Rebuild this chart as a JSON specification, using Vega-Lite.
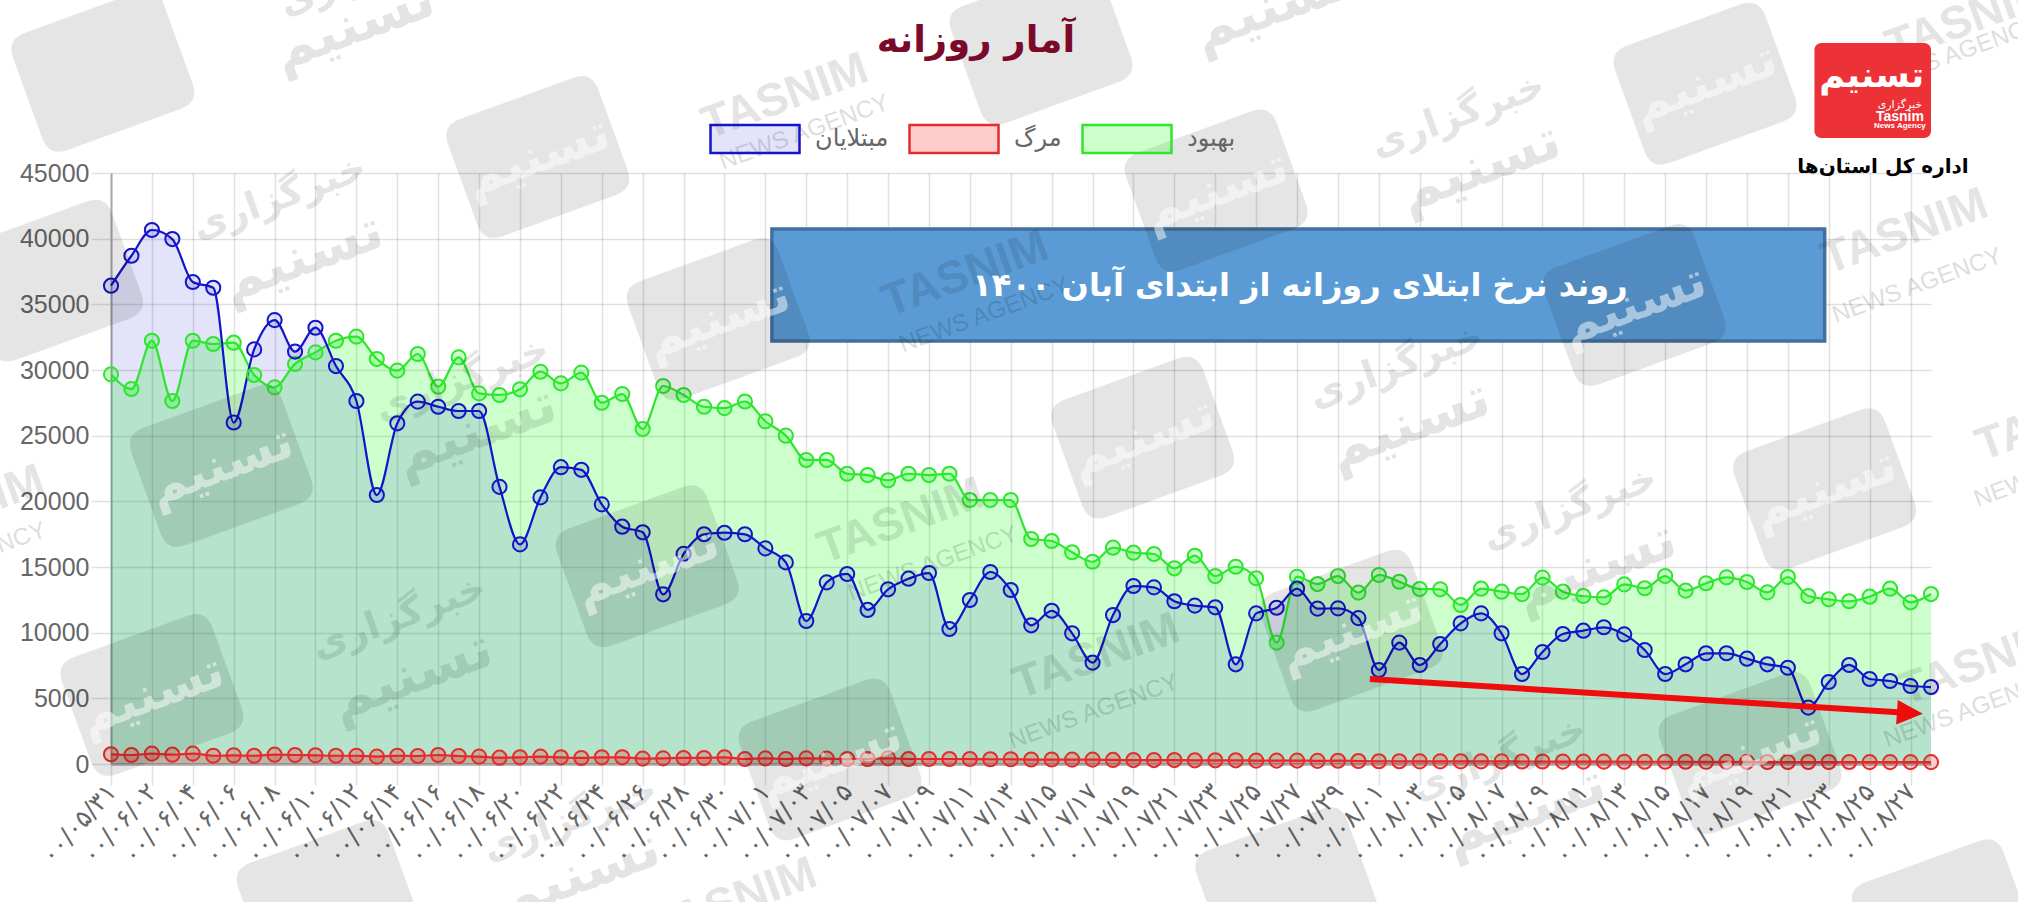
{
  "$schema": "https://vega.github.io/schema/vega-lite/v6.json",
  "description": "Daily statistics with the trend arrow, note box, logo and watermarks.",
  "width": 1820,
  "height": 591,
  "autosize": {"type": "none"},
  "padding": {"left": 111, "top": 173, "right": 87, "bottom": 138},
  "background": "white",
  "title": {"text": "آمار روزانه", "anchor": "middle", "dx": -45, "dy": 135, "offset": 0, "font": "DejaVu Sans", "fontSize": 37, "fontWeight": "bold", "color": "#7b0a2a"},
  "config": {"view": {"stroke": null}},
  "datasets": {
    "badges": [
      {"at": -0.4, "level": 52780}, {"at": 20.87, "level": 46214}, {"at": 54.04, "level": 43666}, {"at": 77.95, "level": 51800},
      {"at": 45.48, "level": 54838}, {"at": -2.91, "level": 36806}, {"at": 5.39, "level": 22694}, {"at": 29.69, "level": 33866},
      {"at": 50.45, "level": 24850}, {"at": 74.49, "level": 34944}, {"at": 83.8, "level": 20930}, {"at": 26.22, "level": 15050},
      {"at": 60.65, "level": 10150}, {"at": 2, "level": 5250}, {"at": 35.16, "level": 350}, {"at": 80.15, "level": 840},
      {"at": 89.6, "level": -11900}, {"at": 57.5, "level": -9450}, {"at": 10.62, "level": -10430}
    ]
  },
  "data": {
    "values": [
      {"day":"۰۰/۰۵/۳۱","group":"بهبود","count":29670},{"day":"۰۰/۰۶/۰۱","group":"بهبود","count":28550},{"day":"۰۰/۰۶/۰۲","group":"بهبود","count":32230},{"day":"۰۰/۰۶/۰۳","group":"بهبود","count":27640},{"day":"۰۰/۰۶/۰۴","group":"بهبود","count":32230},{"day":"۰۰/۰۶/۰۵","group":"بهبود","count":31980},{"day":"۰۰/۰۶/۰۶","group":"بهبود","count":32080},{"day":"۰۰/۰۶/۰۷","group":"بهبود","count":29620},{"day":"۰۰/۰۶/۰۸","group":"بهبود","count":28680},{"day":"۰۰/۰۶/۰۹","group":"بهبود","count":30460},
      {"day":"۰۰/۰۶/۱۰","group":"بهبود","count":31340},{"day":"۰۰/۰۶/۱۱","group":"بهبود","count":32230},{"day":"۰۰/۰۶/۱۲","group":"بهبود","count":32540},{"day":"۰۰/۰۶/۱۳","group":"بهبود","count":30840},{"day":"۰۰/۰۶/۱۴","group":"بهبود","count":29950},{"day":"۰۰/۰۶/۱۵","group":"بهبود","count":31220},{"day":"۰۰/۰۶/۱۶","group":"بهبود","count":28730},{"day":"۰۰/۰۶/۱۷","group":"بهبود","count":30960},{"day":"۰۰/۰۶/۱۸","group":"بهبود","count":28220},{"day":"۰۰/۰۶/۱۹","group":"بهبود","count":28100},
      {"day":"۰۰/۰۶/۲۰","group":"بهبود","count":28530},{"day":"۰۰/۰۶/۲۱","group":"بهبود","count":29870},{"day":"۰۰/۰۶/۲۲","group":"بهبود","count":28980},{"day":"۰۰/۰۶/۲۳","group":"بهبود","count":29800},{"day":"۰۰/۰۶/۲۴","group":"بهبود","count":27510},{"day":"۰۰/۰۶/۲۵","group":"بهبود","count":28170},{"day":"۰۰/۰۶/۲۶","group":"بهبود","count":25510},{"day":"۰۰/۰۶/۲۷","group":"بهبود","count":28780},{"day":"۰۰/۰۶/۲۸","group":"بهبود","count":28100},{"day":"۰۰/۰۶/۲۹","group":"بهبود","count":27200},
      {"day":"۰۰/۰۶/۳۰","group":"بهبود","count":27100},{"day":"۰۰/۰۶/۳۱","group":"بهبود","count":27600},{"day":"۰۰/۰۷/۰۱","group":"بهبود","count":26100},{"day":"۰۰/۰۷/۰۲","group":"بهبود","count":25000},{"day":"۰۰/۰۷/۰۳","group":"بهبود","count":23150},{"day":"۰۰/۰۷/۰۴","group":"بهبود","count":23150},{"day":"۰۰/۰۷/۰۵","group":"بهبود","count":22100},{"day":"۰۰/۰۷/۰۶","group":"بهبود","count":22000},{"day":"۰۰/۰۷/۰۷","group":"بهبود","count":21600},{"day":"۰۰/۰۷/۰۸","group":"بهبود","count":22100},
      {"day":"۰۰/۰۷/۰۹","group":"بهبود","count":22000},{"day":"۰۰/۰۷/۱۰","group":"بهبود","count":22100},{"day":"۰۰/۰۷/۱۱","group":"بهبود","count":20100},{"day":"۰۰/۰۷/۱۲","group":"بهبود","count":20100},{"day":"۰۰/۰۷/۱۳","group":"بهبود","count":20100},{"day":"۰۰/۰۷/۱۴","group":"بهبود","count":17130},{"day":"۰۰/۰۷/۱۵","group":"بهبود","count":16980},{"day":"۰۰/۰۷/۱۶","group":"بهبود","count":16120},{"day":"۰۰/۰۷/۱۷","group":"بهبود","count":15400},{"day":"۰۰/۰۷/۱۸","group":"بهبود","count":16470},
      {"day":"۰۰/۰۷/۱۹","group":"بهبود","count":16090},{"day":"۰۰/۰۷/۲۰","group":"بهبود","count":15990},{"day":"۰۰/۰۷/۲۱","group":"بهبود","count":14900},{"day":"۰۰/۰۷/۲۲","group":"بهبود","count":15860},{"day":"۰۰/۰۷/۲۳","group":"بهبود","count":14310},{"day":"۰۰/۰۷/۲۴","group":"بهبود","count":15020},{"day":"۰۰/۰۷/۲۵","group":"بهبود","count":14140},{"day":"۰۰/۰۷/۲۶","group":"بهبود","count":9240},{"day":"۰۰/۰۷/۲۷","group":"بهبود","count":14260},{"day":"۰۰/۰۷/۲۸","group":"بهبود","count":13700},
      {"day":"۰۰/۰۷/۲۹","group":"بهبود","count":14310},{"day":"۰۰/۰۷/۳۰","group":"بهبود","count":13050},{"day":"۰۰/۰۸/۰۱","group":"بهبود","count":14390},{"day":"۰۰/۰۸/۰۲","group":"بهبود","count":13880},{"day":"۰۰/۰۸/۰۳","group":"بهبود","count":13320},{"day":"۰۰/۰۸/۰۴","group":"بهبود","count":13300},{"day":"۰۰/۰۸/۰۵","group":"بهبود","count":12110},{"day":"۰۰/۰۸/۰۶","group":"بهبود","count":13350},{"day":"۰۰/۰۸/۰۷","group":"بهبود","count":13120},{"day":"۰۰/۰۸/۰۸","group":"بهبود","count":12940},
      {"day":"۰۰/۰۸/۰۹","group":"بهبود","count":14190},{"day":"۰۰/۰۸/۱۰","group":"بهبود","count":13120},{"day":"۰۰/۰۸/۱۱","group":"بهبود","count":12790},{"day":"۰۰/۰۸/۱۲","group":"بهبود","count":12690},{"day":"۰۰/۰۸/۱۳","group":"بهبود","count":13680},{"day":"۰۰/۰۸/۱۴","group":"بهبود","count":13380},{"day":"۰۰/۰۸/۱۵","group":"بهبود","count":14310},{"day":"۰۰/۰۸/۱۶","group":"بهبود","count":13200},{"day":"۰۰/۰۸/۱۷","group":"بهبود","count":13760},{"day":"۰۰/۰۸/۱۸","group":"بهبود","count":14210},
      {"day":"۰۰/۰۸/۱۹","group":"بهبود","count":13860},{"day":"۰۰/۰۸/۲۰","group":"بهبود","count":13070},{"day":"۰۰/۰۸/۲۱","group":"بهبود","count":14240},{"day":"۰۰/۰۸/۲۲","group":"بهبود","count":12790},{"day":"۰۰/۰۸/۲۳","group":"بهبود","count":12540},{"day":"۰۰/۰۸/۲۴","group":"بهبود","count":12390},{"day":"۰۰/۰۸/۲۵","group":"بهبود","count":12740},{"day":"۰۰/۰۸/۲۶","group":"بهبود","count":13350},{"day":"۰۰/۰۸/۲۷","group":"بهبود","count":12310},{"day":"۰۰/۰۸/۲۸","group":"بهبود","count":12940},

      {"day":"۰۰/۰۵/۳۱","group":"مرگ","count":740},{"day":"۰۰/۰۶/۰۱","group":"مرگ","count":685},{"day":"۰۰/۰۶/۰۲","group":"مرگ","count":790},{"day":"۰۰/۰۶/۰۳","group":"مرگ","count":710},{"day":"۰۰/۰۶/۰۴","group":"مرگ","count":790},{"day":"۰۰/۰۶/۰۵","group":"مرگ","count":630},{"day":"۰۰/۰۶/۰۶","group":"مرگ","count":660},{"day":"۰۰/۰۶/۰۷","group":"مرگ","count":630},{"day":"۰۰/۰۶/۰۸","group":"مرگ","count":710},{"day":"۰۰/۰۶/۰۹","group":"مرگ","count":685},
      {"day":"۰۰/۰۶/۱۰","group":"مرگ","count":660},{"day":"۰۰/۰۶/۱۱","group":"مرگ","count":630},{"day":"۰۰/۰۶/۱۲","group":"مرگ","count":630},{"day":"۰۰/۰۶/۱۳","group":"مرگ","count":560},{"day":"۰۰/۰۶/۱۴","group":"مرگ","count":630},{"day":"۰۰/۰۶/۱۵","group":"مرگ","count":610},{"day":"۰۰/۰۶/۱۶","group":"مرگ","count":685},{"day":"۰۰/۰۶/۱۷","group":"مرگ","count":610},{"day":"۰۰/۰۶/۱۸","group":"مرگ","count":560},{"day":"۰۰/۰۶/۱۹","group":"مرگ","count":480},
      {"day":"۰۰/۰۶/۲۰","group":"مرگ","count":510},{"day":"۰۰/۰۶/۲۱","group":"مرگ","count":560},{"day":"۰۰/۰۶/۲۲","group":"مرگ","count":510},{"day":"۰۰/۰۶/۲۳","group":"مرگ","count":460},{"day":"۰۰/۰۶/۲۴","group":"مرگ","count":510},{"day":"۰۰/۰۶/۲۵","group":"مرگ","count":510},{"day":"۰۰/۰۶/۲۶","group":"مرگ","count":410},{"day":"۰۰/۰۶/۲۷","group":"مرگ","count":430},{"day":"۰۰/۰۶/۲۸","group":"مرگ","count":460},{"day":"۰۰/۰۶/۲۹","group":"مرگ","count":460},
      {"day":"۰۰/۰۶/۳۰","group":"مرگ","count":510},{"day":"۰۰/۰۶/۳۱","group":"مرگ","count":380},{"day":"۰۰/۰۷/۰۱","group":"مرگ","count":430},{"day":"۰۰/۰۷/۰۲","group":"مرگ","count":380},{"day":"۰۰/۰۷/۰۳","group":"مرگ","count":430},{"day":"۰۰/۰۷/۰۴","group":"مرگ","count":410},{"day":"۰۰/۰۷/۰۵","group":"مرگ","count":380},{"day":"۰۰/۰۷/۰۶","group":"مرگ","count":380},{"day":"۰۰/۰۷/۰۷","group":"مرگ","count":430},{"day":"۰۰/۰۷/۰۸","group":"مرگ","count":380},
      {"day":"۰۰/۰۷/۰۹","group":"مرگ","count":380},{"day":"۰۰/۰۷/۱۰","group":"مرگ","count":380},{"day":"۰۰/۰۷/۱۱","group":"مرگ","count":380},{"day":"۰۰/۰۷/۱۲","group":"مرگ","count":360},{"day":"۰۰/۰۷/۱۳","group":"مرگ","count":360},{"day":"۰۰/۰۷/۱۴","group":"مرگ","count":340},{"day":"۰۰/۰۷/۱۵","group":"مرگ","count":340},{"day":"۰۰/۰۷/۱۶","group":"مرگ","count":330},{"day":"۰۰/۰۷/۱۷","group":"مرگ","count":330},{"day":"۰۰/۰۷/۱۸","group":"مرگ","count":310},
      {"day":"۰۰/۰۷/۱۹","group":"مرگ","count":300},{"day":"۰۰/۰۷/۲۰","group":"مرگ","count":300},{"day":"۰۰/۰۷/۲۱","group":"مرگ","count":300},{"day":"۰۰/۰۷/۲۲","group":"مرگ","count":280},{"day":"۰۰/۰۷/۲۳","group":"مرگ","count":280},{"day":"۰۰/۰۷/۲۴","group":"مرگ","count":280},{"day":"۰۰/۰۷/۲۵","group":"مرگ","count":260},{"day":"۰۰/۰۷/۲۶","group":"مرگ","count":260},{"day":"۰۰/۰۷/۲۷","group":"مرگ","count":260},{"day":"۰۰/۰۷/۲۸","group":"مرگ","count":240},
      {"day":"۰۰/۰۷/۲۹","group":"مرگ","count":250},{"day":"۰۰/۰۷/۳۰","group":"مرگ","count":230},{"day":"۰۰/۰۸/۰۱","group":"مرگ","count":210},{"day":"۰۰/۰۸/۰۲","group":"مرگ","count":210},{"day":"۰۰/۰۸/۰۳","group":"مرگ","count":200},{"day":"۰۰/۰۸/۰۴","group":"مرگ","count":200},{"day":"۰۰/۰۸/۰۵","group":"مرگ","count":200},{"day":"۰۰/۰۸/۰۶","group":"مرگ","count":200},{"day":"۰۰/۰۸/۰۷","group":"مرگ","count":200},{"day":"۰۰/۰۸/۰۸","group":"مرگ","count":190},
      {"day":"۰۰/۰۸/۰۹","group":"مرگ","count":190},{"day":"۰۰/۰۸/۱۰","group":"مرگ","count":180},{"day":"۰۰/۰۸/۱۱","group":"مرگ","count":180},{"day":"۰۰/۰۸/۱۲","group":"مرگ","count":180},{"day":"۰۰/۰۸/۱۳","group":"مرگ","count":170},{"day":"۰۰/۰۸/۱۴","group":"مرگ","count":170},{"day":"۰۰/۰۸/۱۵","group":"مرگ","count":170},{"day":"۰۰/۰۸/۱۶","group":"مرگ","count":170},{"day":"۰۰/۰۸/۱۷","group":"مرگ","count":160},{"day":"۰۰/۰۸/۱۸","group":"مرگ","count":160},
      {"day":"۰۰/۰۸/۱۹","group":"مرگ","count":160},{"day":"۰۰/۰۸/۲۰","group":"مرگ","count":150},{"day":"۰۰/۰۸/۲۱","group":"مرگ","count":150},{"day":"۰۰/۰۸/۲۲","group":"مرگ","count":150},{"day":"۰۰/۰۸/۲۳","group":"مرگ","count":150},{"day":"۰۰/۰۸/۲۴","group":"مرگ","count":150},{"day":"۰۰/۰۸/۲۵","group":"مرگ","count":140},{"day":"۰۰/۰۸/۲۶","group":"مرگ","count":140},{"day":"۰۰/۰۸/۲۷","group":"مرگ","count":140},{"day":"۰۰/۰۸/۲۸","group":"مرگ","count":140},

      {"day":"۰۰/۰۵/۳۱","group":"مبتلایان","count":36420},{"day":"۰۰/۰۶/۰۱","group":"مبتلایان","count":38700},{"day":"۰۰/۰۶/۰۲","group":"مبتلایان","count":40660},{"day":"۰۰/۰۶/۰۳","group":"مبتلایان","count":39970},{"day":"۰۰/۰۶/۰۴","group":"مبتلایان","count":36700},{"day":"۰۰/۰۶/۰۵","group":"مبتلایان","count":36260},{"day":"۰۰/۰۶/۰۶","group":"مبتلایان","count":26000},{"day":"۰۰/۰۶/۰۷","group":"مبتلایان","count":31570},{"day":"۰۰/۰۶/۰۸","group":"مبتلایان","count":33800},{"day":"۰۰/۰۶/۰۹","group":"مبتلایان","count":31400},
      {"day":"۰۰/۰۶/۱۰","group":"مبتلایان","count":33220},{"day":"۰۰/۰۶/۱۱","group":"مبتلایان","count":30300},{"day":"۰۰/۰۶/۱۲","group":"مبتلایان","count":27640},{"day":"۰۰/۰۶/۱۳","group":"مبتلایان","count":20480},{"day":"۰۰/۰۶/۱۴","group":"مبتلایان","count":25940},{"day":"۰۰/۰۶/۱۵","group":"مبتلایان","count":27590},{"day":"۰۰/۰۶/۱۶","group":"مبتلایان","count":27200},{"day":"۰۰/۰۶/۱۷","group":"مبتلایان","count":26880},{"day":"۰۰/۰۶/۱۸","group":"مبتلایان","count":26880},{"day":"۰۰/۰۶/۱۹","group":"مبتلایان","count":21100},
      {"day":"۰۰/۰۶/۲۰","group":"مبتلایان","count":16720},{"day":"۰۰/۰۶/۲۱","group":"مبتلایان","count":20300},{"day":"۰۰/۰۶/۲۲","group":"مبتلایان","count":22600},{"day":"۰۰/۰۶/۲۳","group":"مبتلایان","count":22400},{"day":"۰۰/۰۶/۲۴","group":"مبتلایان","count":19770},{"day":"۰۰/۰۶/۲۵","group":"مبتلایان","count":18070},{"day":"۰۰/۰۶/۲۶","group":"مبتلایان","count":17640},{"day":"۰۰/۰۶/۲۷","group":"مبتلایان","count":12920},{"day":"۰۰/۰۶/۲۸","group":"مبتلایان","count":16000},{"day":"۰۰/۰۶/۲۹","group":"مبتلایان","count":17490},
      {"day":"۰۰/۰۶/۳۰","group":"مبتلایان","count":17610},{"day":"۰۰/۰۶/۳۱","group":"مبتلایان","count":17490},{"day":"۰۰/۰۷/۰۱","group":"مبتلایان","count":16420},{"day":"۰۰/۰۷/۰۲","group":"مبتلایان","count":15350},{"day":"۰۰/۰۷/۰۳","group":"مبتلایان","count":10890},{"day":"۰۰/۰۷/۰۴","group":"مبتلایان","count":13830},{"day":"۰۰/۰۷/۰۵","group":"مبتلایان","count":14470},{"day":"۰۰/۰۷/۰۶","group":"مبتلایان","count":11730},{"day":"۰۰/۰۷/۰۷","group":"مبتلایان","count":13300},{"day":"۰۰/۰۷/۰۸","group":"مبتلایان","count":14110},
      {"day":"۰۰/۰۷/۰۹","group":"مبتلایان","count":14540},{"day":"۰۰/۰۷/۱۰","group":"مبتلایان","count":10280},{"day":"۰۰/۰۷/۱۱","group":"مبتلایان","count":12490},{"day":"۰۰/۰۷/۱۲","group":"مبتلایان","count":14620},{"day":"۰۰/۰۷/۱۳","group":"مبتلایان","count":13250},{"day":"۰۰/۰۷/۱۴","group":"مبتلایان","count":10560},{"day":"۰۰/۰۷/۱۵","group":"مبتلایان","count":11670},{"day":"۰۰/۰۷/۱۶","group":"مبتلایان","count":9950},{"day":"۰۰/۰۷/۱۷","group":"مبتلایان","count":7720},{"day":"۰۰/۰۷/۱۸","group":"مبتلایان","count":11340},
      {"day":"۰۰/۰۷/۱۹","group":"مبتلایان","count":13550},{"day":"۰۰/۰۷/۲۰","group":"مبتلایان","count":13450},{"day":"۰۰/۰۷/۲۱","group":"مبتلایان","count":12390},{"day":"۰۰/۰۷/۲۲","group":"مبتلایان","count":12060},{"day":"۰۰/۰۷/۲۳","group":"مبتلایان","count":11930},{"day":"۰۰/۰۷/۲۴","group":"مبتلایان","count":7590},{"day":"۰۰/۰۷/۲۵","group":"مبتلایان","count":11470},{"day":"۰۰/۰۷/۲۶","group":"مبتلایان","count":11900},{"day":"۰۰/۰۷/۲۷","group":"مبتلایان","count":13350},{"day":"۰۰/۰۷/۲۸","group":"مبتلایان","count":11830},
      {"day":"۰۰/۰۷/۲۹","group":"مبتلایان","count":11850},{"day":"۰۰/۰۷/۳۰","group":"مبتلایان","count":11110},{"day":"۰۰/۰۸/۰۱","group":"مبتلایان","count":7160},{"day":"۰۰/۰۸/۰۲","group":"مبتلایان","count":9240},{"day":"۰۰/۰۸/۰۳","group":"مبتلایان","count":7540},{"day":"۰۰/۰۸/۰۴","group":"مبتلایان","count":9140},{"day":"۰۰/۰۸/۰۵","group":"مبتلایان","count":10710},{"day":"۰۰/۰۸/۰۶","group":"مبتلایان","count":11470},{"day":"۰۰/۰۸/۰۷","group":"مبتلایان","count":9950},{"day":"۰۰/۰۸/۰۸","group":"مبتلایان","count":6850},
      {"day":"۰۰/۰۸/۰۹","group":"مبتلایان","count":8530},{"day":"۰۰/۰۸/۱۰","group":"مبتلایان","count":9900},{"day":"۰۰/۰۸/۱۱","group":"مبتلایان","count":10150},{"day":"۰۰/۰۸/۱۲","group":"مبتلایان","count":10410},{"day":"۰۰/۰۸/۱۳","group":"مبتلایان","count":9870},{"day":"۰۰/۰۸/۱۴","group":"مبتلایان","count":8680},{"day":"۰۰/۰۸/۱۵","group":"مبتلایان","count":6850},{"day":"۰۰/۰۸/۱۶","group":"مبتلایان","count":7590},{"day":"۰۰/۰۸/۱۷","group":"مبتلایان","count":8430},{"day":"۰۰/۰۸/۱۸","group":"مبتلایان","count":8430},
      {"day":"۰۰/۰۸/۱۹","group":"مبتلایان","count":8020},{"day":"۰۰/۰۸/۲۰","group":"مبتلایان","count":7590},{"day":"۰۰/۰۸/۲۱","group":"مبتلایان","count":7330},{"day":"۰۰/۰۸/۲۲","group":"مبتلایان","count":4290},{"day":"۰۰/۰۸/۲۳","group":"مبتلایان","count":6240},{"day":"۰۰/۰۸/۲۴","group":"مبتلایان","count":7540},{"day":"۰۰/۰۸/۲۵","group":"مبتلایان","count":6470},{"day":"۰۰/۰۸/۲۶","group":"مبتلایان","count":6320},{"day":"۰۰/۰۸/۲۷","group":"مبتلایان","count":5940},{"day":"۰۰/۰۸/۲۸","group":"مبتلایان","count":5860}
    ]
  },
  "layer": [
    {
      "encoding": {
        "x": {
          "field": "day", "type": "ordinal", "title": null,
          "scale": {"type": "point", "padding": 0},
          "axis": {
            "values": ["۰۰/۰۵/۳۱","۰۰/۰۶/۰۲","۰۰/۰۶/۰۴","۰۰/۰۶/۰۶","۰۰/۰۶/۰۸","۰۰/۰۶/۱۰","۰۰/۰۶/۱۲","۰۰/۰۶/۱۴","۰۰/۰۶/۱۶","۰۰/۰۶/۱۸","۰۰/۰۶/۲۰","۰۰/۰۶/۲۲","۰۰/۰۶/۲۴","۰۰/۰۶/۲۶","۰۰/۰۶/۲۸","۰۰/۰۶/۳۰","۰۰/۰۷/۰۱","۰۰/۰۷/۰۳","۰۰/۰۷/۰۵","۰۰/۰۷/۰۷","۰۰/۰۷/۰۹","۰۰/۰۷/۱۱","۰۰/۰۷/۱۳","۰۰/۰۷/۱۵","۰۰/۰۷/۱۷","۰۰/۰۷/۱۹","۰۰/۰۷/۲۱","۰۰/۰۷/۲۳","۰۰/۰۷/۲۵","۰۰/۰۷/۲۷","۰۰/۰۷/۲۹","۰۰/۰۸/۰۱","۰۰/۰۸/۰۳","۰۰/۰۸/۰۵","۰۰/۰۸/۰۷","۰۰/۰۸/۰۹","۰۰/۰۸/۱۱","۰۰/۰۸/۱۳","۰۰/۰۸/۱۵","۰۰/۰۸/۱۷","۰۰/۰۸/۱۹","۰۰/۰۸/۲۱","۰۰/۰۸/۲۳","۰۰/۰۸/۲۵","۰۰/۰۸/۲۷"],
            "grid": true, "gridColor": "#000", "gridOpacity": 0.12, "gridWidth": 1.5,
            "tickSize": 21, "tickColor": "#000", "tickOpacity": 0.12, "tickWidth": 1.5,
            "domainColor": "#a8a8a8", "domainWidth": 2.5,
            "labelAngle": 312, "labelAlign": "right", "labelBaseline": "middle", "labelPadding": 2,
            "labelFont": "DejaVu Sans", "labelFontSize": 25, "labelColor": "#666",
            "labelOverlap": false, "labelBound": false, "labelFlush": false
          }
        },
        "y": {
          "field": "count", "type": "quantitative", "title": null, "stack": null,
          "scale": {"domain": [0, 45000], "nice": false},
          "axis": {
            "values": [0, 5000, 10000, 15000, 20000, 25000, 30000, 35000, 40000, 45000],
            "format": "d", "grid": true, "gridColor": "#000", "gridOpacity": 0.12, "gridWidth": 1.5,
            "tickSize": 20, "tickColor": "#000", "tickOpacity": 0.12, "tickWidth": 1.5,
            "domainColor": "#a8a8a8", "domainWidth": 2,
            "labelPadding": 2, "labelFont": "Liberation Sans", "labelFontSize": 25, "labelColor": "#666"
          }
        }
      },
      "layer": [
        {
          "mark": {"type": "area", "interpolate": "monotone", "opacity": 1},
          "encoding": {
            "fill": {
              "field": "group", "type": "nominal", "title": null,
              "scale": {"domain": ["مبتلایان", "مرگ", "بهبود"], "range": ["rgba(0,0,204,0.11)", "rgba(255,0,0,0.2)", "rgba(0,255,0,0.2)"]},
              "legend": {
                "orient": "none", "legendX": 598, "legendY": -80, "direction": "horizontal", "title": null,
                "symbolType": "M-1,-0.315H1V0.315H-1Z", "symbolSize": 7921, "symbolStrokeWidth": 2.5,
                "labelFont": "DejaVu Sans", "labelFontSize": 24, "labelColor": "#666", "labelOffset": 14,
                "columnPadding": 15, "gridAlign": "none"
              }
            }
          }
        },
        {
          "mark": {"type": "line", "interpolate": "monotone", "strokeWidth": 2.2},
          "encoding": {
            "stroke": {
              "field": "group", "type": "nominal", "title": null,
              "scale": {"domain": ["مبتلایان", "مرگ", "بهبود"], "range": ["#1414c8", "#e32d2d", "#2ee62e"]},
              "legend": {
                "orient": "none", "legendX": 598, "legendY": -80, "direction": "horizontal", "title": null,
                "symbolType": "M-1,-0.315H1V0.315H-1Z", "symbolSize": 7921, "symbolStrokeWidth": 2.5,
                "labelFont": "DejaVu Sans", "labelFontSize": 24, "labelColor": "#666", "labelOffset": 14,
                "columnPadding": 15, "gridAlign": "none"
              }
            }
          }
        },
        {
          "mark": {"type": "point", "filled": true, "size": 200, "opacity": 1, "strokeWidth": 2},
          "encoding": {
            "fill": {"field": "group", "type": "nominal", "title": null},
            "stroke": {"field": "group", "type": "nominal", "title": null}
          }
        }
      ]
    },
    {
      "encoding": {
        "x": {"field": "at", "type": "quantitative", "title": null, "scale": {"domain": [0, 89], "nice": false, "zero": false}, "axis": null},
        "y": {"field": "level", "type": "quantitative", "title": null, "scale": {"domain": [0, 45000], "nice": false}}
      },
      "layer": [
        {
          "data": {"values": [{"at": 32.32, "atEnd": 83.8, "level": 40735, "levelEnd": 32207}]},
          "mark": {"type": "rect", "fill": "#5b9bd5", "stroke": "#41719c", "strokeWidth": 3.5},
          "encoding": {"x2": {"field": "atEnd"}, "y2": {"field": "levelEnd"}}
        },
        {
          "data": {"name": "badges"},
          "mark": {"type": "point", "filled": true, "shape": "M-0.75,-0.78H0.75Q1,-0.78 1,-0.53V0.53Q1,0.78 0.75,0.78H-0.75Q-1,0.78 -1,0.53V-0.53Q-1,-0.78 -0.75,-0.78Z", "size": 25600, "angle": -20, "color": "#000", "opacity": 0.1}
        },
        {
          "data": {"name": "badges"},
          "transform": [{"filter": "datum.at > 1 && datum.at < 85 && datum.level > -2000 && datum.level < 54000"}],
          "mark": {"type": "text", "text": "تسنیم", "font": "DejaVu Sans", "fontWeight": "bold", "fontSize": 50, "angle": -20, "color": "#fff", "opacity": 0.5}
        },
        {
          "data": {"values": [
            {"label":"TASNIM","at":32.96,"level":50820},{"label":"TASNIM","at":41.77,"level":37296},{"label":"TASNIM","at":87.71,"level":40530},{"label":"TASNIM","at":38.62,"level":18480},{"label":"TASNIM","at":48.19,"level":8190},{"label":"TASNIM","at":91.48,"level":7700},{"label":"TASNIM","at":90.85,"level":56700},{"label":"TASNIM","at":-7.32,"level":19460},{"label":"TASNIM","at":95.26,"level":26320},{"label":"TASNIM","at":30.44,"level":-10430}
          ]},
          "mark": {"type": "text", "font": "Liberation Sans", "fontWeight": "bold", "fontSize": 46, "angle": -20, "color": "#000", "opacity": 0.1},
          "encoding": {"text": {"field": "label"}}
        },
        {
          "data": {"values": [
            {"label":"NEWS AGENCY","at":33.9,"level":48076},{"label":"NEWS AGENCY","at":42.71,"level":34160},{"label":"NEWS AGENCY","at":88.33,"level":36414},{"label":"NEWS AGENCY","at":40.19,"level":15246},{"label":"NEWS AGENCY","at":48.06,"level":3976},{"label":"NEWS AGENCY","at":90.85,"level":4074},{"label":"NEWS AGENCY","at":90.22,"level":54054},{"label":"NEWS AGENCY","at":-7.32,"level":15540},{"label":"NEWS AGENCY","at":95.26,"level":22400}
          ]},
          "mark": {"type": "text", "font": "Liberation Sans", "fontSize": 24, "angle": -20, "color": "#000", "opacity": 0.13},
          "encoding": {"text": {"field": "label"}}
        },
        {
          "data": {"values": [
            {"label":"خبرگزاری","at":8.23,"level":43078},{"label":"خبرگزاری","at":65.87,"level":49350},{"label":"خبرگزاری","at":17.16,"level":29260},{"label":"خبرگزاری","at":62.85,"level":30240},{"label":"خبرگزاری","at":71.34,"level":19460},{"label":"خبرگزاری","at":14.08,"level":11130},{"label":"خبرگزاری","at":67.88,"level":350},{"label":"خبرگزاری","at":22.45,"level":-4256},{"label":"خبرگزاری","at":12.5,"level":60130}
          ]},
          "mark": {"type": "text", "font": "DejaVu Sans", "fontWeight": "bold", "fontSize": 38, "angle": -20, "color": "#000", "opacity": 0.1},
          "encoding": {"text": {"field": "label"}}
        },
        {
          "data": {"values": [
            {"label":"تسنیم","at":9.36,"level":38570},{"label":"تسنیم","at":66.94,"level":45430},{"label":"تسنیم","at":17.85,"level":25340},{"label":"تسنیم","at":63.48,"level":25830},{"label":"تسنیم","at":72.6,"level":15050},{"label":"تسنیم","at":14.71,"level":6720},{"label":"تسنیم","at":69.14,"level":-3570},{"label":"تسنیم","at":22.89,"level":-8470},{"label":"تسنیم","at":11.88,"level":56210},{"label":"تسنیم","at":56.87,"level":57680}
          ]},
          "mark": {"type": "text", "font": "DejaVu Sans", "fontWeight": "bold", "fontSize": 56, "angle": -20, "color": "#000", "opacity": 0.1},
          "encoding": {"text": {"field": "label"}}
        },
        {
          "data": {"values": [{"label": "روند نرخ ابتلای روزانه از ابتدای آبان ۱۴۰۰", "at": 58.14, "level": 36395}]},
          "mark": {"type": "text", "font": "DejaVu Sans", "fontWeight": "bold", "fontSize": 32, "color": "#fff"},
          "encoding": {"text": {"field": "label"}}
        },
        {
          "data": {"values": [{"at": 61.56, "atEnd": 87.97, "level": 6470, "levelEnd": 3880}]},
          "mark": {"type": "rule", "color": "#ee0c0c", "strokeWidth": 6},
          "encoding": {"x2": {"field": "atEnd"}, "y2": {"field": "levelEnd"}}
        },
        {
          "data": {"values": [{"at": 87.97, "level": 3880}]},
          "mark": {"type": "point", "filled": true, "shape": "M-1,-0.95L1,0L-1,0.95Z", "size": 676, "angle": 3.6, "color": "#ee0c0c", "opacity": 1}
        },
        {
          "data": {"values": [{"at": 83.3, "atEnd": 89, "level": 54900, "levelEnd": 47660}]},
          "mark": {"type": "rect", "fill": "#ed3237", "cornerRadius": 7},
          "encoding": {"x2": {"field": "atEnd"}, "y2": {"field": "levelEnd"}}
        },
        {
          "data": {"values": [{"label": "تسنیم", "at": 86.1, "level": 52384}]},
          "mark": {"type": "text", "font": "DejaVu Sans", "fontWeight": "bold", "fontSize": 35, "color": "#fff"},
          "encoding": {"text": {"field": "label"}}
        },
        {
          "data": {"values": [{"label": "خبرگزاری", "at": 87.48, "level": 50177}]},
          "mark": {"type": "text", "font": "DejaVu Sans", "fontSize": 11, "color": "#fff"},
          "encoding": {"text": {"field": "label"}}
        },
        {
          "data": {"values": [{"label": "Tasnim", "at": 87.48, "level": 49262}]},
          "mark": {"type": "text", "font": "Liberation Sans", "fontWeight": "bold", "fontSize": 14, "color": "#fff"},
          "encoding": {"text": {"field": "label"}}
        },
        {
          "data": {"values": [{"label": "News Agency", "at": 87.48, "level": 48600}]},
          "mark": {"type": "text", "font": "Liberation Sans", "fontWeight": "bold", "fontSize": 8, "color": "#fff"},
          "encoding": {"text": {"field": "label"}}
        },
        {
          "data": {"values": [{"label": "اداره کل استان‌ها", "at": 86.65, "level": 45455}]},
          "mark": {"type": "text", "font": "DejaVu Sans", "fontWeight": "bold", "fontSize": 20, "color": "#000"},
          "encoding": {"text": {"field": "label"}}
        }
      ]
    }
  ],
  "resolve": {"scale": {"x": "independent"}}
}
